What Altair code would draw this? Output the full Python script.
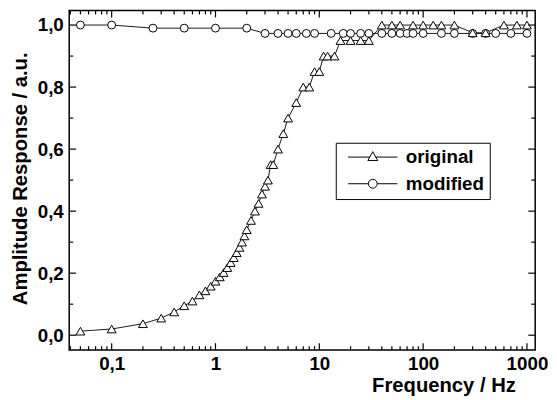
import altair as alt
import pandas as pd

# ---- data ----
orig_freq = [0.05, 0.1, 0.2, 0.3, 0.4, 0.5, 0.6, 0.7, 0.8, 0.9,
             1.0, 1.1, 1.2, 1.3, 1.4, 1.5, 1.6, 1.7, 1.8, 1.9, 2.0,
             2.2, 2.4, 2.6, 2.8, 3.0, 3.2, 3.4, 3.6,
             4.0, 4.5, 5, 6, 7, 8, 9, 10,
             11, 12, 14, 16, 20, 25, 30,
             40, 50, 60, 80, 100, 125, 150, 200,
             300, 400, 600, 800, 1000]
orig_amp = [0.013, 0.02, 0.037, 0.055, 0.075, 0.095, 0.11, 0.13, 0.143, 0.158,
            0.174, 0.188, 0.202, 0.218, 0.234, 0.25, 0.266, 0.283, 0.30, 0.32, 0.34,
            0.37, 0.40, 0.425, 0.455, 0.48, 0.50, 0.55, 0.55,
            0.60, 0.65, 0.70, 0.75, 0.80, 0.80, 0.85, 0.85,
            0.90, 0.90, 0.90, 0.95, 0.95, 0.95, 0.95,
            1.0, 1.0, 1.0, 1.0, 1.0, 1.0, 1.0, 1.0,
            0.975, 0.975, 1.0, 1.0, 1.0]

mod_freq = [0.05, 0.1, 0.25, 0.5, 1, 2,
            3, 4, 5, 6, 7.5, 9,
            13, 17, 20, 25, 30,
            40, 50, 60, 70, 80, 100,
            150, 200, 300, 400, 500, 700, 1000]
mod_amp = [1.0, 1.0, 0.99, 0.99, 0.99, 0.99,
           0.973, 0.973, 0.973, 0.973, 0.973, 0.973,
           0.973, 0.973, 0.973, 0.973, 0.973,
           0.973, 0.973, 0.973, 0.973, 0.973, 0.973,
           0.973, 0.973, 0.973, 0.973, 0.973, 0.973, 0.973]

series_names = ["original", "modified"]

x_major = [0.1, 1, 10, 100, 1000]
x_minor = [d * m for d in [0.01, 0.1, 1, 10, 100] for m in range(2, 10) if 0.039 < d * m < 1200]
y_major = [0.0, 0.2, 0.4, 0.6, 0.8, 1.0]
y_minor = [0.1, 0.3, 0.5, 0.7, 0.9]

W, H = 472, 344
FONT = "Liberation Sans"
LFS = 19     # tick labels
TFS = 20.5   # axis titles
GFS = 19     # legend

xs = alt.Scale(type="log", domain=[0.039, 1200], nice=False)
ys = alt.Scale(domain=[-0.048, 1.047], nice=False, zero=False)

df_orig = pd.DataFrame({"f": orig_freq, "a": orig_amp})
df_mod = pd.DataFrame({"f": mod_freq, "a": mod_amp})

x_axis = alt.Axis(values=x_major, labelExpr="replace(format(datum.value, '~g'), '.', ',')",
                  ticks=False, tickSize=0, domain=False, grid=False,
                  labelFont=FONT, labelFontSize=LFS, labelFontWeight="bold", labelColor="black",
                  labelPadding=5, labelFlush=False, labelOverlap=False,
                  title="Frequency / Hz", titleFont=FONT, titleFontSize=TFS, titleFontWeight="bold",
                  titleColor="black", titleX=452, titleY=42, titleAlign="right",
                  titleBaseline="alphabetic")
y_axis = alt.Axis(values=y_major, labelExpr="replace(format(datum.value, '.1f'), '.', ',')",
                  ticks=False, tickSize=0, domain=False, grid=False,
                  labelFont=FONT, labelFontSize=LFS, labelFontWeight="bold", labelColor="black",
                  labelPadding=6, labelFlush=False, labelOverlap=False,
                  title="Amplitude Response / a.u.", titleFont=FONT, titleFontSize=TFS,
                  titleFontWeight="bold", titleColor="black", titleX=-49, titleY=170,
                  titleAngle=270, titleAlign="center", titleBaseline="middle")

X = lambda f: alt.X(f, scale=xs, axis=x_axis)
Y = lambda f: alt.Y(f, scale=ys, axis=y_axis)

line_mod = alt.Chart(df_mod).mark_line(color="black", strokeWidth=0.9).encode(x=X("f:Q"), y=Y("a:Q"))
line_orig = alt.Chart(df_orig).mark_line(color="black", strokeWidth=0.9).encode(x=X("f:Q"), y=Y("a:Q"))
pts_mod = alt.Chart(df_mod).mark_point(shape="circle", size=64, filled=True, fill="white",
                                       stroke="black", strokeWidth=1, opacity=1).encode(
    x=X("f:Q"), y=Y("a:Q"))
pts_orig = alt.Chart(df_orig).mark_point(shape="triangle-up", size=80, filled=True, fill="white",
                                         stroke="black", strokeWidth=1, opacity=1).encode(
    x=X("f:Q"), y=Y("a:Q"))

# legend built from an empty layer whose shape scale holds line+marker glyphs
tri_path = "M-5,0H-0.61M0.61,0H5M0,-1.1L1,0.7L-1,0.7Z"
circ_path = "M-5,0H-0.9M0.9,0H5M0.9,0A0.9,0.9,0,1,1,-0.9,0A0.9,0.9,0,1,1,0.9,0Z"
df_leg = pd.DataFrame({"series": series_names, "f": [1, 1], "a": [0.5, 0.5]})
legend_layer = alt.Chart(df_leg).transform_filter("false").mark_point(
    filled=False, color="black", strokeWidth=1, opacity=1).encode(
    x=X("f:Q"), y=Y("a:Q"),
    shape=alt.Shape("series:N", sort=series_names,
                    scale=alt.Scale(domain=series_names, range=[tri_path, circ_path]),
                    legend=alt.Legend(title=None, orient="none", legendX=270, legendY=134,
                                      labelFont=FONT, labelFontSize=GFS, labelFontWeight="bold",
                                      labelColor="black", symbolSize=100, symbolOffset=23,
                                      labelOffset=24, strokeColor="black", padding=5,
                                      rowPadding=7, symbolStrokeWidth=1,
                                      symbolStrokeColor="black", symbolFillColor="white")))

def tick_layer(vals, axis_dim, side, length):
    d = pd.DataFrame({"v": vals})
    c = alt.Chart(d).mark_rule(color="black", strokeWidth=1.2)
    if axis_dim == "x":
        if side == "bottom":
            return c.encode(x=X("v:Q"), y=alt.value(H), y2=alt.value(H - length))
        return c.encode(x=X("v:Q"), y=alt.value(0), y2=alt.value(length))
    if side == "left":
        return c.encode(y=Y("v:Q"), x=alt.value(0), x2=alt.value(length))
    return c.encode(y=Y("v:Q"), x=alt.value(W), x2=alt.value(W - length))

ticks = [
    tick_layer(x_major, "x", "bottom", 7), tick_layer(x_minor, "x", "bottom", 4),
    tick_layer(x_major, "x", "top", 7), tick_layer(x_minor, "x", "top", 4),
    tick_layer(y_major, "y", "left", 7), tick_layer(y_minor, "y", "left", 4),
    tick_layer(y_major, "y", "right", 7), tick_layer(y_minor, "y", "right", 4),
]

chart = alt.layer(line_mod, line_orig, pts_mod, pts_orig, legend_layer, *ticks).properties(
    width=W, height=H,
    autosize=alt.AutoSizeParams(type="none"),
    padding={"left": 62, "top": 0, "right": 14, "bottom": 44},
    background="white",
).configure_view(stroke="black", strokeWidth=1.5)

chart.save("out.html", embed_options={"renderer": "svg", "actions": False})
